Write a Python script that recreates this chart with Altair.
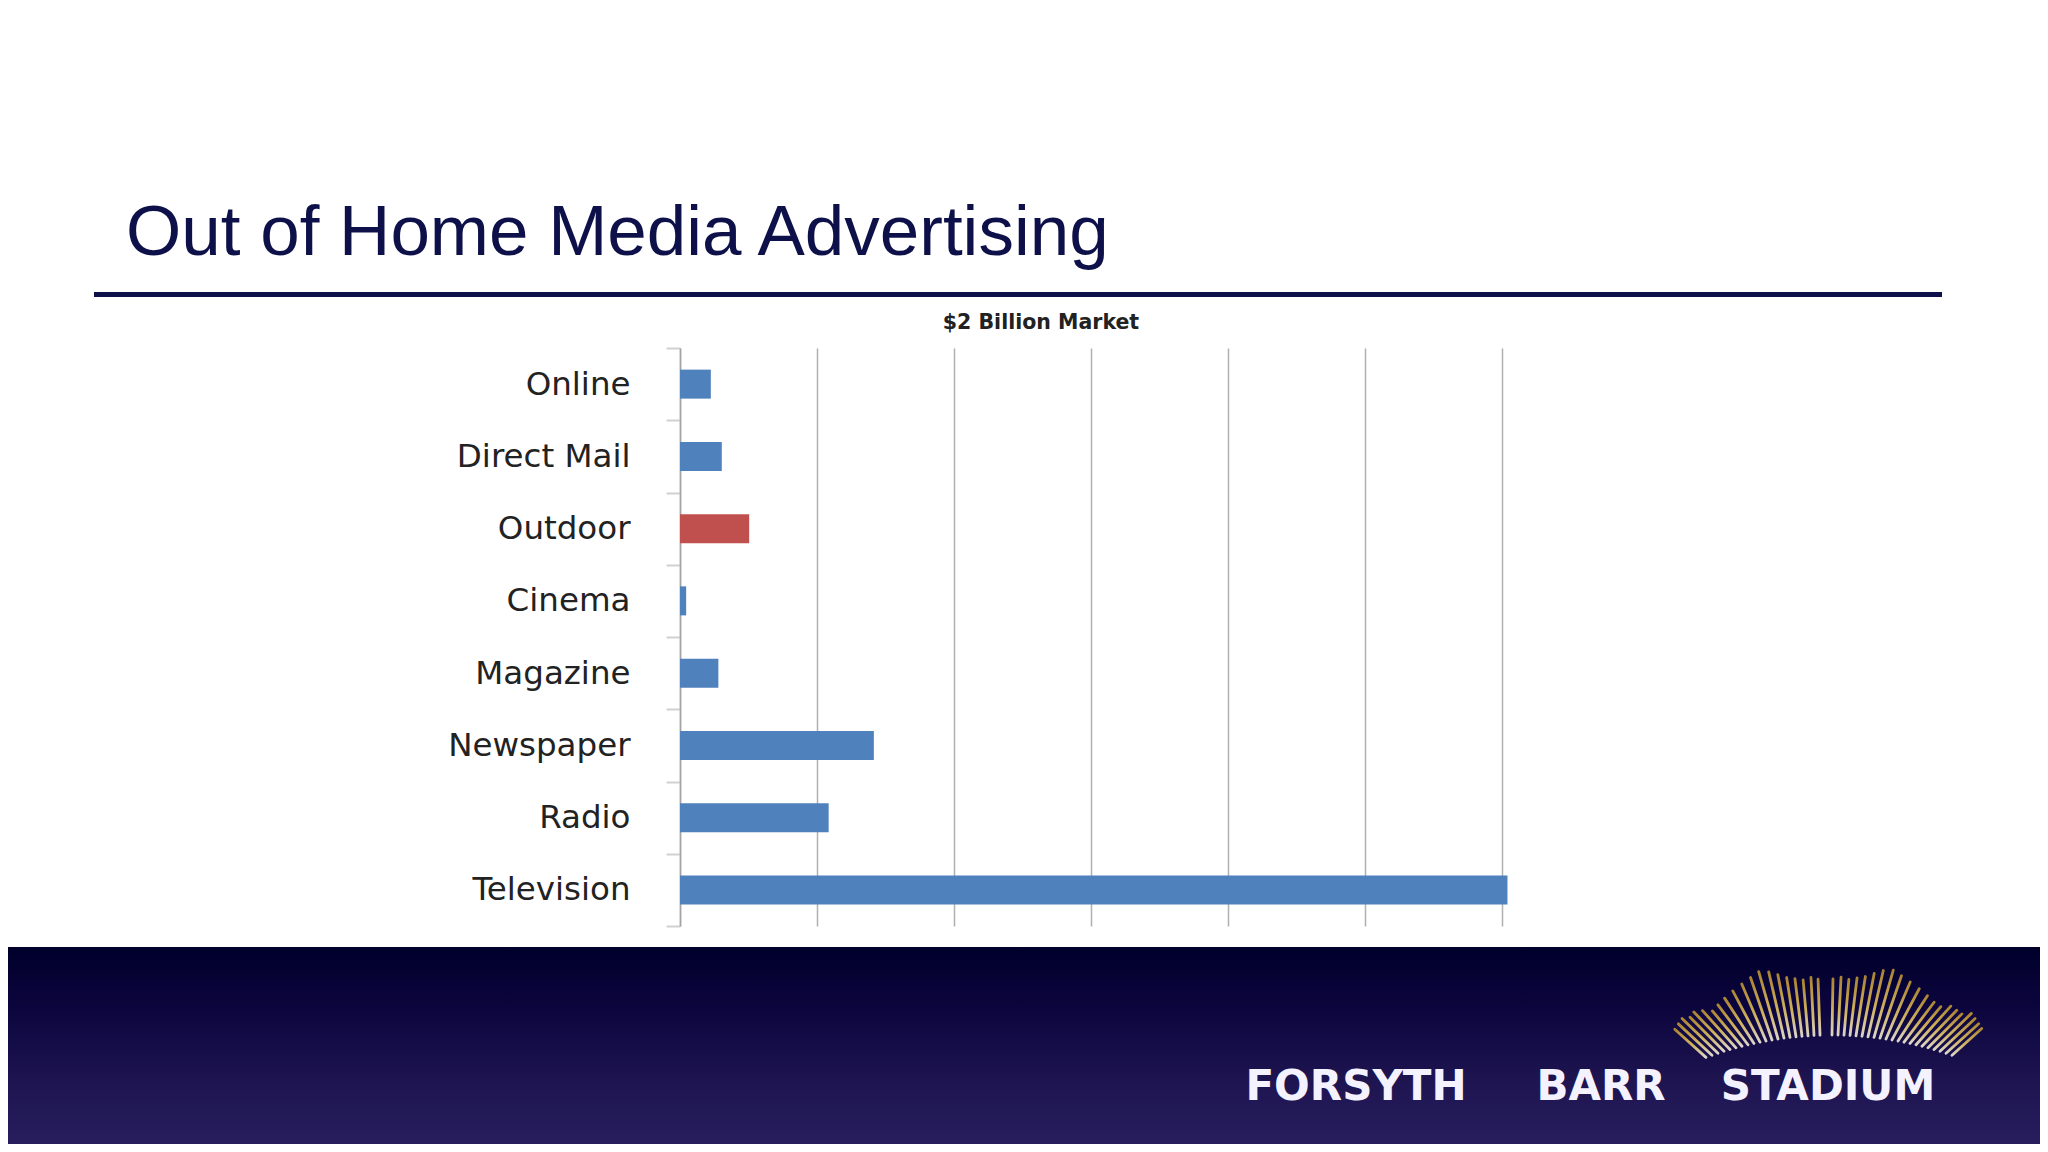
import altair as alt
import pandas as pd

# ---------------- data ----------------
categories = ["Online", "Direct Mail", "Outdoor", "Cinema",
              "Magazine", "Newspaper", "Radio", "Television"]
values = [45, 61, 101, 9, 56, 283, 217, 1208]          # approx. $ millions
grid_values = [0, 200, 400, 600, 800, 1000, 1200]

slide_title = "Out of Home Media Advertising"
chart_title = "$2 Billion Market"
logo_words = ["FORSYTH", "BARR", "STADIUM"]

# decorative sun-ray crown of the logo (base x on page, tilt in degrees, length px)
ray_base_x = [1706, 1712, 1718, 1724, 1730, 1736, 1742, 1748, 1754, 1760,
              1766, 1772, 1778, 1784, 1790, 1796, 1802, 1808, 1814, 1820,
              1826, 1832, 1838, 1844, 1850, 1856, 1862, 1868, 1874, 1880,
              1886, 1892, 1898, 1904, 1910, 1916, 1922, 1928, 1934, 1940,
              1946, 1952]
ray_tilt = [-48, -47, -46, -45, -44, -42, -40, -37, -33, -28,
            -23, -19, -16, -13, -11, -9, -7, -5, -3, -2,
            0, 1, 3, 5, 7, 9, 11, 13, 16, 19,
            23, 28, 33, 37, 40, 42, 44, 45, 46, 47,
            48, 48]
ray_len = [42, 46, 50, 48, 52, 50, 46, 50, 54, 58,
           62, 66, 70, 68, 64, 60, 58, 56, 58, 56,
           58, 56, 58, 56, 58, 60, 64, 68, 70, 66,
           62, 58, 54, 50, 48, 52, 50, 48, 52, 48,
           44, 40]

# ---------------- layout ----------------
W, H = 822, 578                 # plot area
PAD_L, PAD_T = 672, 340
CW, CH = 2032, 1136             # canvas
PAD_R, PAD_B = CW - PAD_L - W, CH - PAD_T - H
OX, OY = 8 + PAD_L, 8 + PAD_T   # page position of plot origin

NAVY = "#0e1149"
BLUE = "#4f81bd"
RED = "#c0504d"

df = pd.DataFrame({"Medium": categories, "Spend": values})

bars = alt.Chart(df).mark_bar(size=29).encode(
    y=alt.Y("Medium:N", sort=categories,
            scale=alt.Scale(paddingInner=0, paddingOuter=0),
            axis=alt.Axis(title=None, tickBand="extent", tickSize=14,
                          tickColor="#d0d0d0", tickWidth=2,
                          domainColor="#a3a3a3", domainWidth=1.5,
                          labelFont="DejaVu Sans", labelFontSize=32.5,
                          labelColor="#222222", labelPadding=36,
                          labelLimit=500, grid=False)),
    x=alt.X("Spend:Q", scale=alt.Scale(domain=[0, 1200], nice=False),
            axis=alt.Axis(values=grid_values, grid=True, gridColor="#b0b0b0",
                          gridWidth=1.5, labels=False, ticks=False,
                          domain=False, title=None)),
    color=alt.condition(alt.datum.Medium == "Outdoor",
                        alt.value(RED), alt.value(BLUE)),
)

one = pd.DataFrame({"k": [0]})

footer = alt.Chart(one).mark_rect(
    fill=alt.Gradient(
        gradient="linear", x1=0, x2=0, y1=0, y2=1,
        stops=[alt.GradientStop(color="#00002b", offset=0),
               alt.GradientStop(color="#0c053d", offset=0.3),
               alt.GradientStop(color="#1c134f", offset=0.65),
               alt.GradientStop(color="#281e5e", offset=1)])
).encode(x=alt.value(-PAD_L), x2=alt.value(W + PAD_R),
         y=alt.value(947 - OY), y2=alt.value(H + PAD_B))

rule_line = alt.Chart(one).mark_rect(color=NAVY).encode(
    x=alt.value(94 - OX), x2=alt.value(1942 - OX),
    y=alt.value(292 - OY), y2=alt.value(297 - OY))

title_txt = alt.Chart(pd.DataFrame({"t": [slide_title]})).mark_text(
    font="Liberation Sans", fontSize=71, color=NAVY, align="left",
    baseline="alphabetic").encode(
    text="t:N", x=alt.value(126 - OX), y=alt.value(255 - OY))

ctitle_txt = alt.Chart(pd.DataFrame({"t": [chart_title]})).mark_text(
    font="DejaVu Sans", fontSize=20.5, fontWeight="bold", color="#222222",
    align="center", baseline="alphabetic").encode(
    text="t:N", x=alt.value(1041 - OX), y=alt.value(329 - OY))

logo_layers = []
for word, cx in zip(logo_words, [1356, 1601, 1828]):
    logo_layers.append(
        alt.Chart(pd.DataFrame({"t": [word]})).mark_text(
            font="DejaVu Sans", fontSize=42, fontWeight="bold",
            color="#f4f2ff", align="center", baseline="alphabetic").encode(
            text="t:N", x=alt.value(cx - OX), y=alt.value(1100 - OY)))

rays_df = pd.DataFrame({"bx": ray_base_x, "tilt": ray_tilt, "len": ray_len})
page_x = alt.Scale(domain=[0, 2048], range=[-OX, 2048 - OX], nice=False, zero=False)
page_y = alt.Scale(domain=[0, 1152], range=[-OY, 1152 - OY], nice=False, zero=False)
rays = alt.Chart(rays_df).transform_calculate(
    by="1401 - sqrt(366*366 - (datum.bx - 1832)*(datum.bx - 1832))",
    tx="datum.bx + datum.len * sin(datum.tilt * PI / 180)",
    ty="datum.by - datum.len * cos(datum.tilt * PI / 180)",
).mark_rule(
    strokeWidth=2.8, strokeCap="round",
    stroke=alt.Gradient(gradient="linear", x1=0, x2=0, y1=1, y2=0,
                        stops=[alt.GradientStop(color="#fff8e0", offset=0),
                               alt.GradientStop(color="#f0cf62", offset=0.45),
                               alt.GradientStop(color="#c89b32", offset=1)]),
    opacity=0.85,
).encode(
    x=alt.X("bx:Q", scale=page_x, axis=None),
    y=alt.Y("by:Q", scale=page_y, axis=None),
    x2="tx:Q", y2="ty:Q",
)

chart = alt.layer(
    footer, rule_line, title_txt, ctitle_txt, bars, rays, *logo_layers
).resolve_scale(x="independent", y="independent").properties(
    width=W, height=H,
    padding={"left": PAD_L, "top": PAD_T, "right": PAD_R, "bottom": PAD_B},
    autosize=alt.AutoSizeParams(type="none"),
    background="white",
).configure_view(stroke=None)

chart.save("out.html", embed_options={"renderer": "svg", "actions": False})
